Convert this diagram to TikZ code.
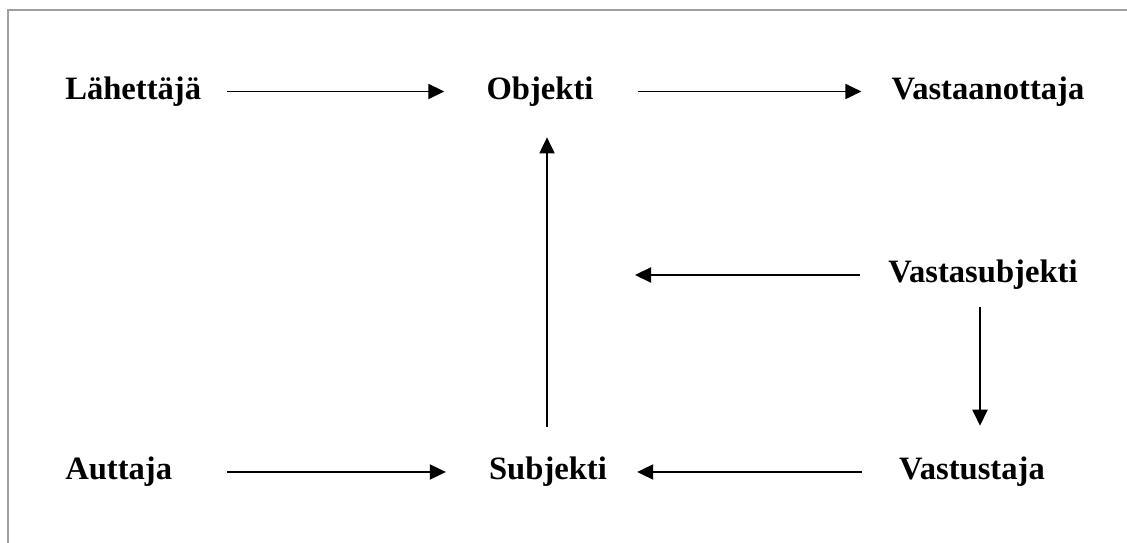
\documentclass[tikz,border=0pt]{standalone}
\usepackage{fontspec}
\setmainfont{Liberation Serif}
\usetikzlibrary{arrows.meta}

\tikzset{
  actant/.style={inner sep=0pt, text height=0.6cm, text depth=0.2cm, font=\fontsize{23.2}{26}\selectfont\bfseries},
  arr/.style={line width=0.95pt, -{Triangle[length=0.4cm,width=0.38cm]}}
}

\begin{document}
\begin{tikzpicture}
        \useasboundingbox (0,0) rectangle (28.175,13.575);
        % Frame
        \draw[gray!75, line width=0.05cm] (0.2,0) -- (0.2,13.3125) -- (28.175,13.3125);

        % Define the actants
        \node[actant, anchor=base west] (sender) at (1.625,11.0875) {Lähettäjä};
        \node[actant, anchor=base] (object) at (13.5,11.0875) {Objekti};
        \node[actant, anchor=base] (receiver) at (24.7,11.0875) {Vastaanottaja};

        \node[actant, anchor=base] (antisubject) at (24.575,6.5) {Vastasubjekti};
        \coordinate (antiend) at (15.875,6.5);

        \node[actant, anchor=base west] (helper) at (1.625,1.575) {Auttaja};
        \node[actant, anchor=base] (subject) at (13.7,1.575) {Subjekti};
        \node[actant, anchor=base] (opponent) at (24.3,1.575) {Vastustaja};

        % Define the arrows
        \draw[arr, shorten <=0.65cm, shorten >=1.05cm] (sender.east) -- (object.west);
        \draw[arr, shorten <=1.1cm, shorten >=0.75cm] (object.east) -- (receiver.west);
        \draw[arr, shorten <=0.725cm, shorten >=0.74cm] ([xshift=-0.025cm]subject.north) -- ([xshift=-0.025cm]subject.north |- object.south);
        \draw[arr, shorten <=0.7cm] (antisubject.west) -- (antisubject.west -| antiend);
        \draw[arr, shorten <=0.4cm, shorten >=0.75cm] ([xshift=-0.075cm]antisubject.south) -- ([xshift=-0.075cm]antisubject.south |- opponent.north);
        \draw[arr, shorten <=1.375cm, shorten >=1.075cm] (helper.east) -- (subject.west);
        \draw[arr, shorten <=0.925cm, shorten >=0.75cm] (opponent.west) -- (subject.east);

\end{tikzpicture}
\end{document}
